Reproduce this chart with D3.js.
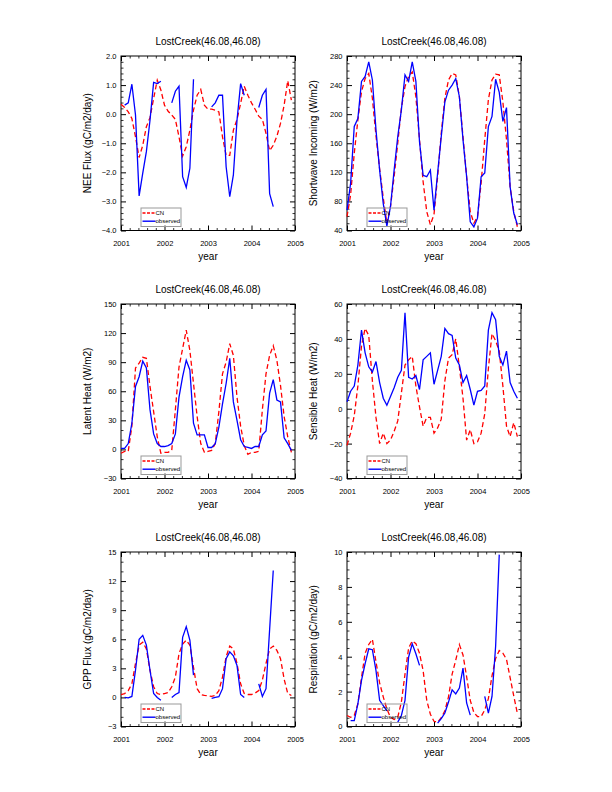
<!DOCTYPE html>
<html>
<head>
<meta charset="utf-8">
<script src="https://cdn.jsdelivr.net/npm/d3@7"></script>
<style>
  body { margin: 0; background: #fff; }
  svg { display: block; font-family: 'Liberation Sans', Arial, Helvetica, sans-serif; }
</style>
</head>
<body>
<div id="chart"></div>
<script>
// ---- data (monthly values, Jan 2001 .. Dec 2004) ----
var yearTicks = [2001, 2002, 2003, 2004, 2005]
var siteTitle = 'LostCreek(46.08,46.08)'
var seriesNames = ['CN', 'observed']

var neeCN = [0.34, 0.23, 0.08, -0.15, -0.78, -1.49, -1.07, -0.43, -0.12, 0.54, 1.17, 0.83,
  0.31, 0.10, -0.03, -0.18, -0.78, -1.44, -1.12, -0.55, 0.14, 0.65, 0.85, 0.31,
  0.17, 0.17, 0.14, 0.08, -0.78, -1.42, -1.42, -0.55, -0.18, 0.37, 0.96, 0.65,
  0.39, 0.17, -0.07, -0.18, -0.66, -1.26, -1.07, -0.76, -0.32, 0.31, 1.15, 0.48]
var neeObs = [null, 0.31, 0.39, 1.03, -0.03, -2.81, -2.03, -1.29, -0.21, 1.09, 1.05, 1.13,
  null, null, 0.39, 0.79, 0.96, -2.15, -2.52, -1.86, 1.20, null, null, null,
  null, 0.25, 0.39, 0.65, 0.65, -1.81, -2.84, -2.09, -0.21, 1.05, 0.65, null,
  null, null, 0.23, 0.65, 0.85, -2.73, -3.18, null, null, null, null, null]

var swCN = [59, 89, 146, 192, 231, 249, 256, 222, 170, 125, 85, 50,
  73, 114, 160, 208, 238, 252, 258, 224, 165, 107, 66, 48,
  62, 114, 174, 222, 247, 256, 254, 224, 169, 114, 66, 50,
  59, 105, 165, 220, 247, 255, 254, 217, 165, 100, 66, 45]
var swObs = [68, 105, 183, 194, 245, 252, 272, 247, 178, 123, 77, 46,
  73, 123, 169, 206, 254, 245, 272, 245, 162, 116, 114, 123,
  68, 119, 169, 217, 233, 240, 249, 224, 165, 114, 52, 45,
  57, 114, 119, 183, 197, 248, 230, 190, 209, 100, 64, 48]

var lhCN = [-4, -2, -2, 24, 84, 89, 95, 94, 65, 39, 13, -4,
  -3, -3, -1, 41, 85, 104, 123, 102, 68, 34, 6, -3,
  -2, -1, 6, 39, 78, 90, 109, 97, 54, 24, 4, -5,
  -3, -3, -2, 41, 78, 97, 107, 92, 66, 34, 13, -3]
var lhObs = [1, 1, 6, 27, 65, 75, 91, 84, 41, 16, 6, 3,
  3, 4, 6, 16, 54, 75, 92, 82, 27, 15, 15, 15,
  2, 2, 6, 23, 47, 68, 94, 49, 30, 10, 3, 2,
  1, 3, 3, 15, 19, 58, 72, 51, 49, 12, 6, -1]

var shCN = [-21, -14, -4, 13, 36, 46, 42, 16, -5, -20, -14, -20,
  -18, -13, -7, 9, 25, 28, 30, 13, 1, -10, -5, -5,
  -14, -11, -6, 16, 29, 31, 40, 24, 6, -18, -12, -20,
  -19, -14, -3, 23, 43, 39, 33, 13, -10, -16, -8, -16]
var shObs = [4, 10, 13, 25, 45, 32, 24, 21, 27, 15, 6, 2,
  7, 12, 18, 22, 55, 18, 17, 19, 11, 28, 30, 32,
  14, 22, 30, 46, 43, 42, 29, 25, 15, 19, 11, 2,
  10, 10.5, 13, 45, 55, 51, 30, 25, 33, 15, 10, 6]

var gppCN = [0.3, 0.4, 0.7, 1.4, 3.5, 5.4, 5.7, 5.0, 2.8, 1.1, 0.4, 0.3,
  0.4, 0.5, 1.1, 2.1, 4.5, 5.5, 5.9, 5.4, 3.1, 0.9, 0.3, 0.2,
  0.17, 0.1, 0.2, 0.7, 2.1, 4.2, 5.3, 5.0, 3.5, 1.4, 0.4, 0.3,
  0.3, 0.45, 0.7, 1.8, 3.5, 5.0, 5.3, 4.85, 4.0, 1.9, 0.4, 0.2]
var gppObs = [null, 0.0, -0.05, 0.1, 2.8, 6.0, 6.4, 5.4, 2.8, 0.4, 0.0, -0.3,
  null, null, 0.0, 0.3, 0.5, 6.2, 7.3, 5.9, 2.3, null, null, null,
  null, -0.1, 0.0, 0.07, 0.9, 4.0, 4.7, 4.3, 3.3, 0.3, 0.0, null,
  null, null, 1.4, 0.1, 0.9, 7.0, 13.1, null, null, null, null, null]

var rspCN = [0.63, 0.53, 0.63, 1.3, 2.8, 4.2, 4.7, 5.0, 3.7, 2.5, 1.7, 1.0,
  0.53, 0.4, 0.53, 1.4, 3.0, 4.5, 4.9, 4.75, 4.2, 3.2, 1.5, 0.7,
  0.3, 0.25, 0.5, 0.9, 1.7, 3.0, 3.8, 4.7, 4.1, 2.85, 1.5, 0.8,
  0.57, 0.57, 0.95, 1.6, 2.9, 3.9, 4.35, 4.2, 3.85, 2.8, 1.75, 0.75]
var rspObs = [null, 0.34, 0.34, 1.3, 2.64, 3.6, 4.45, 4.4, 3.2, 1.5, 1.2, 0.9,
  null, null, 0.25, 0.63, 1.5, 3.98, 4.74, 4.17, 3.5, null, null, null,
  null, 0.19, 0.45, 0.77, 1.4, 2.1, 1.87, 2.2, 3.35, 1.35, 0.65, null,
  null, null, 1.72, 0.77, 1.72, 4.6, 9.85, null, null, null, null, null]

// y tick values of each panel
var neeTicks = [-4, -3, -2, -1, 0, 1, 2]
var swTicks = [40, 80, 120, 160, 200, 240, 280]
var lhTicks = [-30, 0, 30, 60, 90, 120, 150]
var shTicks = [-40, -20, 0, 20, 40, 60]
var gppTicks = [-3, 0, 3, 6, 9, 12, 15]
var rspTicks = [0, 2, 4, 6, 8, 10]

// ---- layout ----
var W = 612
var H = 792
var colX = [121, 347] // 每列绘图区左边
var rowY = [56, 304, 552] // 每行绘图区上边
var pw = 174
var ph = 174.5

var panels = [
  { cn: neeCN, obs: neeObs, ticks: neeTicks, fmt: '.1f', minor: 0.2, label: 'NEE Flux (gC/m2/day)', col: 0, row: 0 },
  { cn: swCN, obs: swObs, ticks: swTicks, fmt: 'd', minor: 10, label: 'Shortwave Incoming (W/m2)', col: 1, row: 0 },
  { cn: lhCN, obs: lhObs, ticks: lhTicks, fmt: 'd', minor: 10, label: 'Latent Heat (W/m2)', col: 0, row: 1 },
  { cn: shCN, obs: shObs, ticks: shTicks, fmt: 'd', minor: 5, label: 'Sensible Heat (W/m2)', col: 1, row: 1 },
  { cn: gppCN, obs: gppObs, ticks: gppTicks, fmt: 'd', minor: 1, label: 'GPP Flux (gC/m2/day)', col: 0, row: 2 },
  { cn: rspCN, obs: rspObs, ticks: rspTicks, fmt: 'd', minor: 0.5, label: 'Respiration (gC/m2/day)', col: 1, row: 2 }
]

var svg = d3.select('#chart').append('svg')
  .attr('width', W)
  .attr('height', H)

// 小刻度: 去掉和大刻度重合的位置
function minorTicks (lo, hi, step, major) {
  var out = []
  var n = Math.round((hi - lo) / step)
  for (var k = 0; k <= n; k++) {
    var v = lo + k * step
    if (!major.some(function (m) { return Math.abs(m - v) < step / 10 })) out.push(v)
  }
  return out
}

function drawPanel (p) {
  var left = colX[p.col]
  var top = rowY[p.row]
  var g = svg.append('g').attr('transform', 'translate(' + left + ',' + top + ')')

  var x = d3.scaleLinear()
    .domain(d3.extent(yearTicks))
    .range([0, pw])
  var y = d3.scaleLinear()
    .domain(d3.extent(p.ticks))
    .range([ph, 0])

  var xMinor = minorTicks(yearTicks[0], yearTicks[yearTicks.length - 1], 0.2, yearTicks)
  var yMinor = minorTicks(p.ticks[0], p.ticks[p.ticks.length - 1], p.minor, p.ticks)

  // major + minor ticks on all four sides, pointing inward
  var axes = [
    { a: d3.axisBottom(x), t: 'translate(0,' + ph + ')', major: yearTicks, minor: xMinor, lab: true, pad: 10.5, fmt: d3.format('d') },
    { a: d3.axisTop(x), t: 'translate(0,0)', major: yearTicks, minor: xMinor, lab: false },
    { a: d3.axisLeft(y), t: 'translate(0,0)', major: p.ticks, minor: yMinor, lab: true, pad: 4.5, fmt: d3.format(p.fmt) },
    { a: d3.axisRight(y), t: 'translate(' + pw + ',0)', major: p.ticks, minor: yMinor, lab: false }
  ]
  axes.forEach(function (ax) {
    var gm = g.append('g').attr('transform', ax.t)
      .call(ax.a.tickValues(ax.minor).tickSize(-2.5).tickFormat(''))
    gm.select('.domain').remove()
    gm.selectAll('line').attr('stroke', '#000').attr('stroke-width', 0.8)
    var gM = g.append('g').attr('transform', ax.t)
      .call(ax.a.tickValues(ax.major).tickSize(-5)
        .tickPadding(ax.lab ? ax.pad : 0)
        .tickFormat(ax.lab ? ax.fmt : ''))
    gM.select('.domain').remove()
    gM.selectAll('line').attr('stroke', '#000').attr('stroke-width', 1)
    gM.selectAll('text')
      .attr('font-size', '7.5px')
      .attr('font-family', "'Liberation Sans', Arial, sans-serif")
      .attr('fill', '#000')
  })

  // frame
  g.append('rect')
    .attr('width', pw)
    .attr('height', ph)
    .attr('fill', 'none')
    .attr('stroke', '#000')
    .attr('stroke-width', 1)

  // 曲线
  var t0 = yearTicks[0]
  var line = d3.line()
    .defined(function (d) { return d !== null })
    .x(function (d, i) { return x(t0 + i / 12) })
    .y(function (d) { return y(d) })

  g.append('path')
    .datum(p.cn)
    .attr('d', line)
    .attr('fill', 'none')
    .attr('stroke', '#ff0000')
    .attr('stroke-width', 1.3)
    .attr('stroke-dasharray', '5,3')
  g.append('path')
    .datum(p.obs)
    .attr('d', line)
    .attr('fill', 'none')
    .attr('stroke', '#0000ff')
    .attr('stroke-width', 1.3)

  // legend
  var lg = g.append('g').attr('transform', 'translate(20,' + (ph - 22.5) + ')')
  lg.append('rect')
    .attr('width', 40)
    .attr('height', 18.5)
    .attr('fill', 'none')
    .attr('stroke', '#999')
    .attr('stroke-width', 1)
  var styles = [
    { c: '#ff0000', dash: '3,1.5', yy: 5 },
    { c: '#0000ff', dash: null, yy: 13.2 }
  ]
  seriesNames.forEach(function (name, k) {
    lg.append('line')
      .attr('x1', 1.5).attr('x2', 14.5)
      .attr('y1', styles[k].yy).attr('y2', styles[k].yy)
      .attr('stroke', styles[k].c)
      .attr('stroke-width', 1.4)
      .attr('stroke-dasharray', styles[k].dash)
    lg.append('text')
      .attr('x', 14.5)
      .attr('y', styles[k].yy + 2)
      .attr('font-size', '6px')
      .text(name)
  })

  // titles
  g.append('text')
    .attr('x', pw / 2)
    .attr('y', -11.5)
    .attr('text-anchor', 'middle')
    .attr('font-size', '10px')
    .text(siteTitle)
  g.append('text')
    .attr('x', pw / 2)
    .attr('y', ph + 29.5)
    .attr('text-anchor', 'middle')
    .attr('font-size', '10px')
    .text('year')
  g.append('text')
    .attr('transform', 'translate(-30,' + (ph / 2) + ') rotate(-90)')
    .attr('text-anchor', 'middle')
    .attr('font-size', '10px')
    .text(p.label)
}

panels.forEach(drawPanel)
</script>
</body>
</html>
